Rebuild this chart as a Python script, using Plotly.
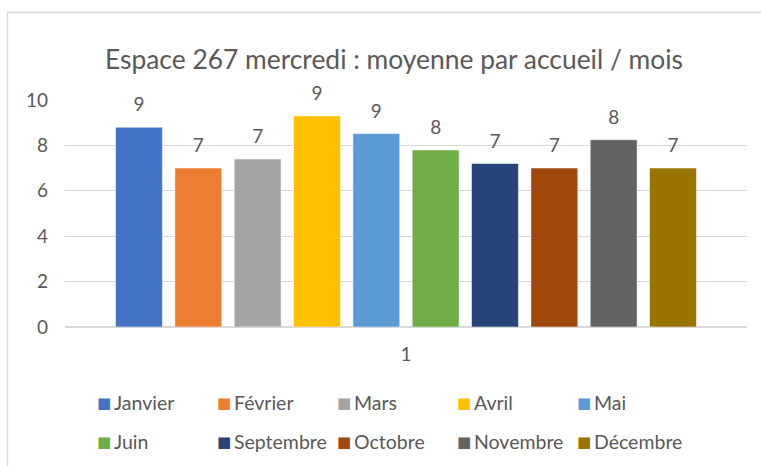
import plotly.graph_objects as go

months = ["Janvier", "Février", "Mars", "Avril", "Mai", "Juin",
          "Septembre", "Octobre", "Novembre", "Décembre"]
values = [8.8, 7.0, 7.4, 9.3, 8.52, 7.8, 7.2, 7.0, 8.25, 7.0]
colors = ["#4472C4", "#ED7D31", "#A5A5A5", "#FFC000", "#5B9BD5",
          "#70AD47", "#264478", "#9E480E", "#636363", "#997300"]
category = ["1"]
yticks = [0, 2, 4, 6, 8, 10]

FONT = "Lato, 'Open Sans', sans-serif"
GREY = "#595959"

W, H = 761, 466
L, R, T, B = 65, 14, 100, 139
pw, ph = W - L - R, H - T - B

def px_x(px):
    return (px - L) / pw

def px_y(py):
    return (H - B - py) / ph

def half_up(v):
    return str(int(v + 0.5))

fig = go.Figure()
for i, (m, v, c) in enumerate(zip(months, values, colors)):
    fig.add_trace(go.Bar(
        name=m, x=category, y=[v], offsetgroup=str(i), alignmentgroup="a",
        marker=dict(color=c, line=dict(color="white", width=0.5)),
    ))
# value labels (rounded, as in the original), grouped alongside the bars
for i, (m, v) in enumerate(zip(months, values)):
    fig.add_trace(go.Scatter(
        name=m, x=category, y=[v], offsetgroup=str(i), alignmentgroup="a",
        mode="markers+text", text=[half_up(v)], textposition="top center",
        marker=dict(size=16, color="rgba(0,0,0,0)"),
        textfont=dict(family=FONT, size=19, color=GREY),
        cliponaxis=False, hoverinfo="skip",
    ))

annotations = []
cols_px = [98, 218, 338, 458, 578]
rows_px = [402.5, 441.5]
for i, (m, c) in enumerate(zip(months, colors)):
    r, k = divmod(i, 5)
    annotations.append(dict(
        x=px_x(cols_px[k] + 6), y=px_y(rows_px[r]), xref="paper", yref="paper",
        xanchor="center", yanchor="middle", showarrow=False,
        text="■", font=dict(family="DejaVu Sans", size=15, color=c),
    ))
    annotations.append(dict(
        x=px_x(cols_px[k] + 14), y=px_y(rows_px[r]), xref="paper", yref="paper",
        xanchor="left", yanchor="middle", showarrow=False,
        text=m, font=dict(family=FONT, size=19.5, color=GREY),
    ))

fig.update_layout(
    width=W, height=H,
    margin=dict(l=L, r=R, t=T, b=B),
    paper_bgcolor="white", plot_bgcolor="white",
    barmode="group", bargap=0.13, bargroupgap=0.21,
    scattermode="group", scattergap=0.13,
    showlegend=False,
    title=dict(text="Espace 267 mercredi : moyenne par accueil / mois",
               x=394 / W, xanchor="center", y=1 - 60 / H, yanchor="middle",
               font=dict(family=FONT, size=26.4, color=GREY)),
    xaxis=dict(showgrid=False, showline=False, ticks="",
               tickfont=dict(family=FONT, size=19, color=GREY),
               ticklabelstandoff=14),
    yaxis=dict(range=[0, 10], tickvals=yticks, showgrid=True,
               gridcolor="#D9D9D9", gridwidth=1.3, zeroline=True,
               zerolinecolor="#D9D9D9", zerolinewidth=1.5, showline=False,
               tickfont=dict(family=FONT, size=19, color=GREY),
               ticklabelstandoff=16),
    annotations=annotations,
    shapes=[dict(type="rect", xref="paper", yref="paper",
                 x0=px_x(7.5), x1=px_x(800), y0=px_y(520), y1=px_y(12.5),
                 line=dict(color="#D9D9D9", width=1.5), layer="below")],
)

fig.write_html("out.html", config={"displayModeBar": False},
               post_script="document.body.style.margin='0';")
